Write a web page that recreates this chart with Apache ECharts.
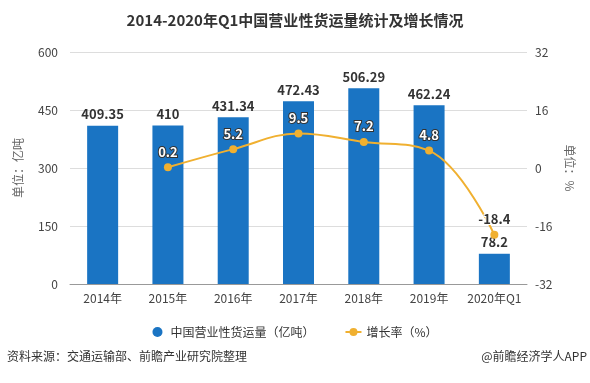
<!DOCTYPE html>
<html><head><meta charset="utf-8">
<script src="https://cdn.jsdelivr.net/npm/echarts@6/dist/echarts.min.js"></script>
<style>html,body{margin:0;padding:0;background:#fff}#c{width:590px;height:383px}</style>
</head><body><div id="c"></div>
<script>
var categories = ['2014年','2015年','2016年','2017年','2018年','2019年','2020年Q1'];
var volume = [409.35, 410, 431.34, 472.43, 506.29, 462.24, 78.2];
var growth = [null, 0.2, 5.2, 9.5, 7.2, 4.8, -18.4];
var leftTicks = {min: 0, max: 600, interval: 150};
var rightTicks = {min: -32, max: 32, interval: 16};

var growthData = growth.map(function (v, i) {
  if (v === null) return null;
  var item = {value: v};
  if (v < 0) {
    item.label = {color: '#333', textBorderColor: '#fff', textBorderWidth: 2};
  }
  return item;
});

var chart = echarts.init(document.getElementById('c'));
chart.setOption({
  animation: false,
  textStyle: {fontFamily: '"Microsoft YaHei","Noto Sans CJK SC",sans-serif'},
  title: {
    text: '2014-2020年Q1中国营业性货运量统计及增长情况',
    left: 'center', top: 8,
    textStyle: {fontSize: 15, fontWeight: 'bold', color: '#333', fontFamily: '"Noto Sans CJK SC",sans-serif'}
  },
  grid: {left: 70, right: 63, top: 52, bottom: 99},
  legend: {
    bottom: 40, left: 'center', itemGap: 30, itemWidth: 16, itemHeight: 10,
    textStyle: {fontSize: 12, color: '#333'},
    data: [
      {name: '中国营业性货运量（亿吨）', icon: 'circle'},
      {name: '增长率（%）'}
    ]
  },
  graphic: [
    {type: 'text', left: 7, top: 350, style: {text: '资料来源：交通运输部、前瞻产业研究院整理', fill: '#333', fontSize: 12, fontFamily: '"Noto Sans CJK SC",sans-serif'}},
    {type: 'text', right: 3, top: 350, style: {text: '@前瞻经济学人APP', fill: '#333', fontSize: 12, fontFamily: '"Noto Sans CJK SC",sans-serif'}}
  ],
  xAxis: {
    type: 'category', data: categories,
    axisTick: {alignWithLabel: true, lineStyle: {color: '#999'}},
    axisLine: {lineStyle: {color: '#999'}},
    axisLabel: {color: '#444', fontSize: 12, margin: 8, interval: 0}
  },
  yAxis: [
    {
      type: 'value', min: leftTicks.min, max: leftTicks.max, interval: leftTicks.interval,
      name: '单位：亿吨', nameLocation: 'middle', nameGap: 46,
      nameTextStyle: {color: '#666', fontSize: 12},
      axisLine: {show: false}, axisTick: {show: false},
      axisLabel: {color: '#444', fontSize: 12, margin: 12},
      splitLine: {lineStyle: {color: '#ddd'}}
    },
    {
      type: 'value', min: rightTicks.min, max: rightTicks.max, interval: rightTicks.interval,
      name: '单位：%', nameLocation: 'middle', nameGap: 32, nameRotate: -90,
      nameTextStyle: {color: '#666', fontSize: 12},
      axisLine: {show: false}, axisTick: {show: false},
      axisLabel: {color: '#444', fontSize: 12, margin: 8},
      splitLine: {show: false}
    }
  ],
  series: [
    {
      name: '中国营业性货运量（亿吨）', type: 'bar', data: volume, barWidth: 31,
      itemStyle: {color: '#1a74c3'},
      label: {show: true, position: 'top', color: '#333', fontWeight: 'bold', fontSize: 13}
    },
    {
      name: '增长率（%）', type: 'line', yAxisIndex: 1, data: growthData, smooth: 0.4,
      symbol: 'circle', symbolSize: 8,
      itemStyle: {color: '#f0b030'}, lineStyle: {color: '#f0b030', width: 2},
      label: {show: true, position: 'top', color: '#fff', fontWeight: 'bold', fontSize: 13,
        textBorderColor: '#333', textBorderWidth: 2}
    }
  ]
});
</script></body></html>
